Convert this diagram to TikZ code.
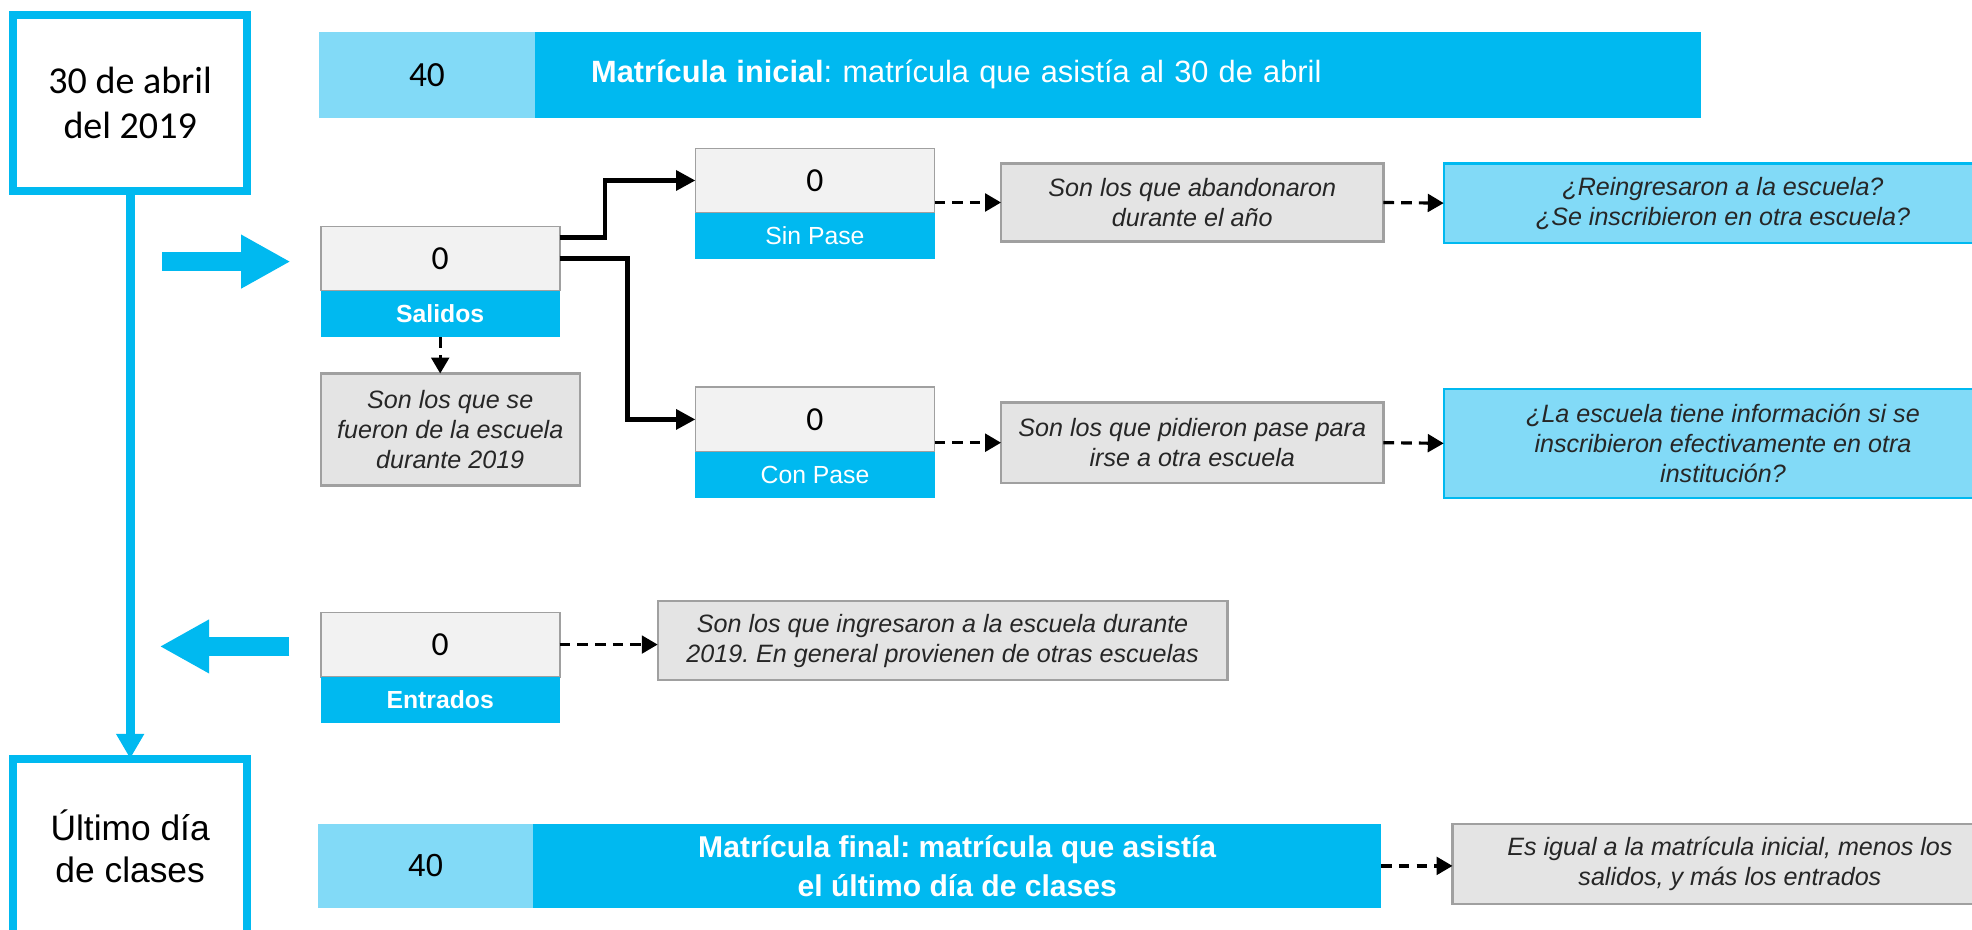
\documentclass[tikz,border=0pt]{standalone}
\usepackage{fontspec}
\setmainfont{Liberation Sans}
\newfontfamily\calib{Carlito}
\usetikzlibrary{positioning,arrows.meta}
\definecolor{cielo}{RGB}{0,185,240}
\definecolor{celeste}{RGB}{130,218,247}
\definecolor{grisnota}{RGB}{228,228,228}
\definecolor{grisborde}{RGB}{160,160,160}
\definecolor{grisnum}{RGB}{242,242,242}
\definecolor{texto}{RGB}{38,38,38}
\frenchspacing

\begin{document}
\begin{tikzpicture}[x=0.025cm,y=-0.025cm,
        every node/.style={outer sep=0pt},
        fecha/.style={draw=cielo,line width=4.5pt,fill=white,minimum width=4.64cm,minimum height=3.49cm,align=center},
        numbox/.style={draw=grisborde,line width=1pt,fill=grisnum,minimum width=4.75cm,minimum height=1.275cm,anchor=north west,font=\calib\fontsize{19}{23}\selectfont},
        tagbox/.style={fill=cielo,text=white,minimum width=4.75cm,minimum height=0.925cm,font=\fontsize{14}{17}\selectfont},
        nota/.style={draw=grisborde,line width=1.2pt,fill=grisnota,align=center,text=texto,font=\fontsize{14.2}{17}\selectfont\itshape},
        pregunta/.style={draw=cielo,line width=1.2pt,fill=celeste,align=center,text=texto,font=\fontsize{14.2}{17}\selectfont\itshape},
        flecha/.style={line width=2.8pt,-{Triangle[length=11pt,width=11pt]}},
        punteada/.style={line width=1.8pt,dash pattern=on 6pt off 4pt,-{Triangle[length=9pt,width=10pt]}},
        bloque/.style={cielo,line width=10.7pt,-{Triangle[length=28pt,width=28.5pt]}}]
        \useasboundingbox (0,0) rectangle (1568,739);
        % linea de tiempo
        \node[fecha,font=\calib\fontsize{21.5}{25.6}\selectfont] (Abr) at (103.5,82) {30 de abril\\del 2019};
        \node[fecha,font=\fontsize{20}{24}\selectfont] (Ult) at (103.5,673) {Último día\\de clases};
        \draw[cielo,line width=5pt,-{Triangle[length=14pt,width=15pt]}] (Abr.south) -- (Ult.north);
        \coordinate (D1) at (129,208);
        \coordinate (D2) at (231,208);
        \draw[bloque] (D1) -- (D2);
        \coordinate (E1) at (230,514);
        \coordinate (E2) at (127,514);
        \draw[bloque] (E1) -- (E2);
        % matricula inicial y final
        \node[fill=celeste,minimum width=4.275cm,minimum height=1.7cm,font=\calib\fontsize{20}{24}\selectfont] (Ini) at (339.5,59.5) {40};
        \node[fill=cielo,anchor=west,minimum height=1.7cm,inner xsep=1.125cm,text width=20.925cm,align=left,text=white,font=\fontsize{17.4}{20}\selectfont] (IniBar) at (Ini.east) {\textbf{Matrícula inicial}: matrícula que asistía al 30 de abril};
        \node[fill=celeste,minimum width=4.275cm,minimum height=1.675cm,font=\fontsize{18}{22}\selectfont] (Fin) at (338.5,688.5) {40};
        \node[fill=cielo,anchor=west,minimum width=16.85cm,minimum height=1.675cm,align=center,text=white,font=\bfseries\fontsize{17}{22}\selectfont] (FinBar) at (Fin.east) {Matrícula final: matrícula que asistía\\el último día de clases};
        % salidos y entrados
        \node[numbox] (Sal) at (255,180) {0};
        \node[tagbox,below=0pt of Sal,font=\bfseries\fontsize{14}{17}\selectfont] (SalT) {Salidos};
        \node[numbox] (SinP) at (553,118) {0};
        \node[tagbox,below=0pt of SinP] (SinPT) {Sin Pase};
        \node[numbox] (ConP) at (553,308) {0};
        \node[tagbox,below=0pt of ConP] (ConPT) {Con Pase};
        \node[numbox] (Ent) at (255,487) {0};
        \node[tagbox,below=0pt of Ent,font=\bfseries\fontsize{14}{17}\selectfont] (EntT) {Entrados};
        % notas
        \node[nota,minimum width=5.15cm,minimum height=2.225cm] (NSal) at (358,341.5) {Son los que se\\fueron de la escuela\\durante 2019};
        \node[nota,minimum width=7.6cm,minimum height=1.55cm] (NSin) at (948,161) {Son los que abandonaron\\durante el año};
        \node[nota,minimum width=7.6cm,minimum height=1.6cm] (NCon) at (948,352) {Son los que pidieron pase para\\irse a otra escuela};
        \node[pregunta,minimum width=11.1cm,minimum height=1.575cm] (PSin) at (1370,161.5) {¿Reingresaron a la escuela?\\¿Se inscribieron en otra escuela?};
        \node[pregunta,minimum width=11.1cm,minimum height=2.175cm] (PCon) at (1370,352.5) {¿La escuela tiene información si se\\inscribieron efectivamente en otra\\institución?};
        \node[nota,minimum width=11.325cm,minimum height=1.575cm] (NEnt) at (749.5,509.5) {Son los que ingresaron a la escuela durante\\2019. En general provienen de otras escuelas};
        \node[nota,minimum width=11.025cm,minimum height=1.6cm] (NFin) at (1375.5,687) {Es igual a la matrícula inicial, menos los\\salidos, y más los entrados};
        % flechas
        \draw[flecha] ([yshift=12pt]Sal.east) -- ++(36,0) |- (SinP.west);
        \draw[flecha] (Sal.east) -- ++(54,0) |- (ConP.west);
        \draw[punteada] (SalT.south) -- (SalT.south |- NSal.north);
        \draw[punteada] (SinP.east |- NSin.west) -- (NSin.west);
        \draw[punteada] (NSin.east) -- (PSin.west);
        \draw[punteada] (ConP.east |- NCon.west) -- (NCon.west);
        \draw[punteada] (NCon.east) -- (PCon.west);
        \draw[punteada] (Ent.east) -- (Ent.east -| NEnt.west);
        \draw[punteada] (FinBar.east) -- (FinBar.east -| NFin.west);
    \end{tikzpicture}
\end{document}
